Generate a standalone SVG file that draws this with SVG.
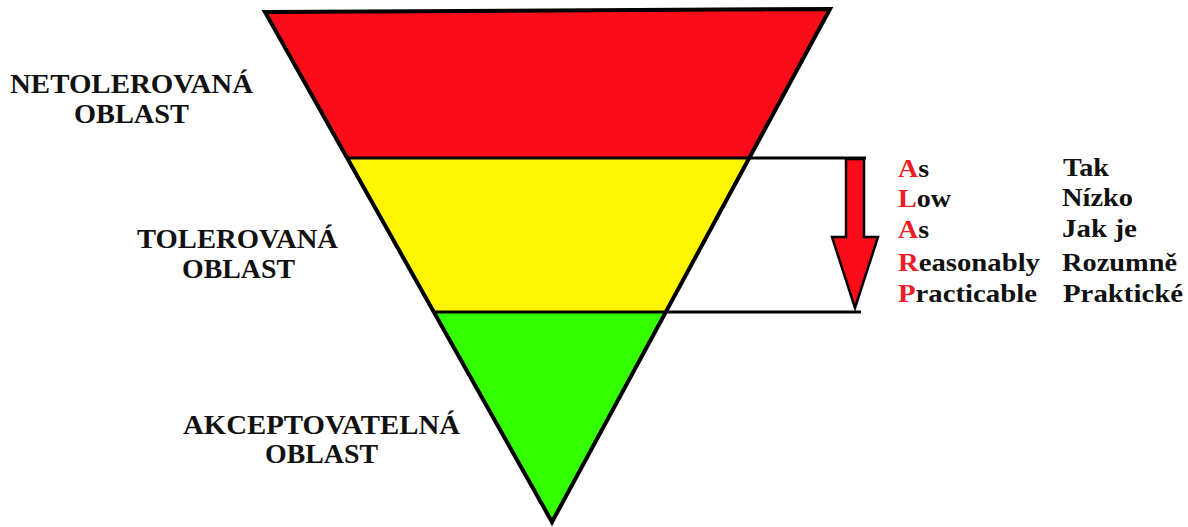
<svg xmlns="http://www.w3.org/2000/svg" width="1188" height="527" viewBox="0 0 1188 527">
<style>
.lbl{font-family:'Liberation Serif','DejaVu Serif',serif;font-weight:700;font-size:27px;fill:#111}
.al{font-family:'Liberation Serif','DejaVu Serif',serif;font-weight:700;font-size:25px;fill:#111}
.r{fill:#EE1C25}
.ln{stroke:#000;stroke-width:3;fill:none}
</style>
<rect width="1188" height="527" fill="#fff"/>
<g id="zone-red"><polygon points="265,12 830,9 749,158 348,158" fill="#FA0D18"/></g>
<g id="zone-yellow"><polygon points="348,158 749,158 666,312 434,312" fill="#FFF500"/></g>
<g id="zone-green"><polygon points="434,312 666,312 552,522" fill="#33FF00"/></g>
<g id="outline"><polygon points="265,12 830,9 552,522" fill="none" stroke="#000" stroke-width="4" stroke-linejoin="miter"/></g>
<g id="connectors">
<line class="ln" x1="348" y1="158" x2="866" y2="158"/>
<line class="ln" x1="434" y1="312" x2="861" y2="312"/>
<polygon id="alarp-arrow" points="846,159 864,159 864,237 878,237 855,308 832,237 846,237" fill="#FA0D18" stroke="#000" stroke-width="2.5" stroke-linejoin="miter"/>
</g>
<g id="label-netolerovana">
<text class="lbl" x="10" y="93" textLength="243" lengthAdjust="spacingAndGlyphs">NETOLEROVANÁ</text>
<text class="lbl" x="74" y="123" textLength="115" lengthAdjust="spacingAndGlyphs">OBLAST</text>
</g>
<g id="label-tolerovana">
<text class="lbl" x="137" y="248" textLength="201" lengthAdjust="spacingAndGlyphs">TOLEROVANÁ</text>
<text class="lbl" x="182" y="278" textLength="113" lengthAdjust="spacingAndGlyphs">OBLAST</text>
</g>
<g id="label-akceptovatelna">
<text class="lbl" x="183" y="434" textLength="277" lengthAdjust="spacingAndGlyphs">AKCEPTOVATELNÁ</text>
<text class="lbl" x="265" y="463" textLength="113" lengthAdjust="spacingAndGlyphs">OBLAST</text>
</g>
<g id="alarp-english">
<text class="al" x="898" y="177" textLength="31" lengthAdjust="spacingAndGlyphs"><tspan class="r">A</tspan>s</text>
<text class="al" x="898" y="207" textLength="53" lengthAdjust="spacingAndGlyphs"><tspan class="r">L</tspan>ow</text>
<text class="al" x="898" y="238" textLength="31" lengthAdjust="spacingAndGlyphs"><tspan class="r">A</tspan>s</text>
<text class="al" x="898" y="271" textLength="142" lengthAdjust="spacingAndGlyphs"><tspan class="r">R</tspan>easonably</text>
<text class="al" x="898" y="302" textLength="139" lengthAdjust="spacingAndGlyphs"><tspan class="r">P</tspan>racticable</text>
</g>
<g id="alarp-czech">
<text class="al" x="1063" y="176" textLength="46" lengthAdjust="spacingAndGlyphs">Tak</text>
<text class="al" x="1062" y="206" textLength="71" lengthAdjust="spacingAndGlyphs">Nízko</text>
<text class="al" x="1062" y="237" textLength="75" lengthAdjust="spacingAndGlyphs">Jak je</text>
<text class="al" x="1062" y="271" textLength="115" lengthAdjust="spacingAndGlyphs">Rozumně</text>
<text class="al" x="1063" y="302" textLength="120" lengthAdjust="spacingAndGlyphs">Praktické</text>
</g>
</svg>
